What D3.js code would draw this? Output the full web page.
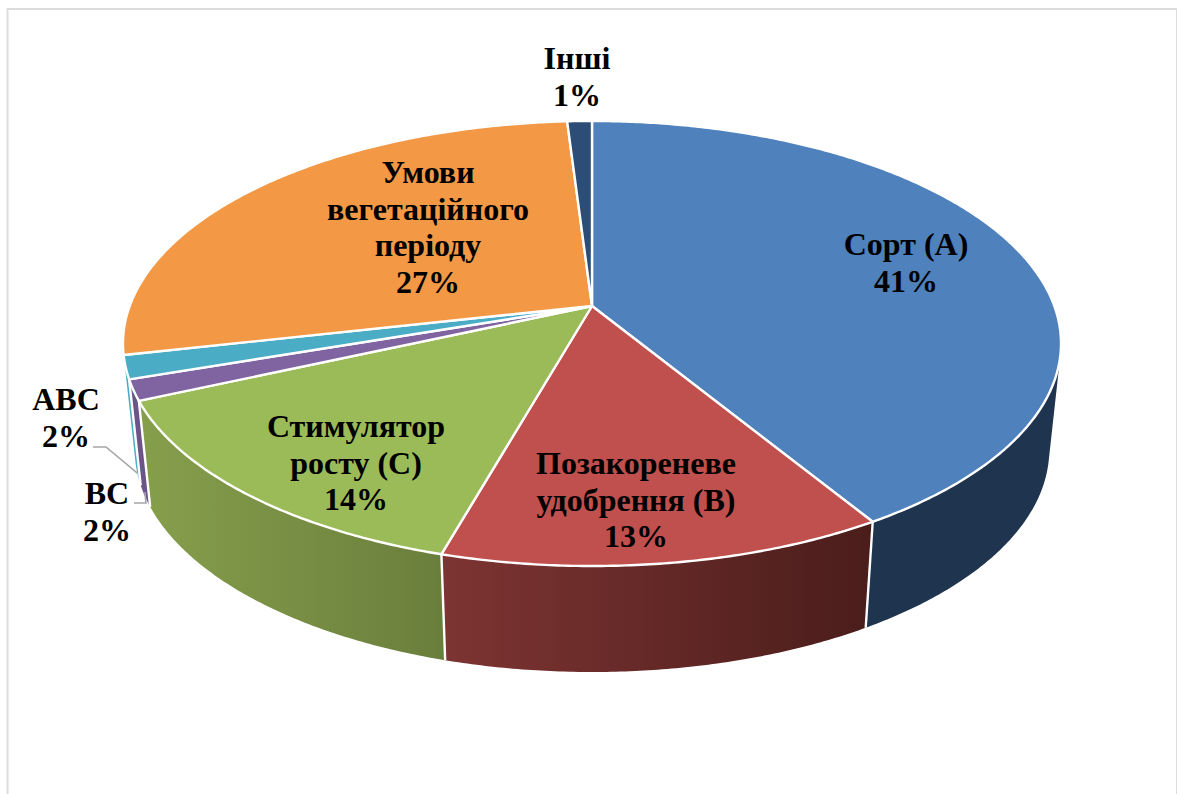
<!DOCTYPE html>
<html>
<head>
<meta charset="utf-8">
<title>Pie</title>
<script src="https://cdnjs.cloudflare.com/ajax/libs/d3/7.8.5/d3.min.js"></script>
<style>
    html, body { margin: 0; padding: 0; background: #fff; overflow: hidden; }
    svg { display: block; }
    text { font-family: "Liberation Serif", serif; font-weight: bold; font-size: 32px; fill: #000; text-anchor: middle; }
</style>
</head>
<body>
<svg></svg>
<script>
var svgWidth = 1177, svgHeight = 794;

var categories = ["Сорт (A)", "Позакореневе удобрення (B)", "Стимулятор росту (C)", "BC", "ABC", "Умови вегетаційного періоду", "Інші"];
var shares = [41.3, 13.1, 13.9, 1.5, 1.7, 27.5, 1.0];
var percentLabels = ["41%", "13%", "14%", "2%", "2%", "27%", "1%"];
var labelLines = [
    ["Сорт (A)"],
    ["Позакореневе", "удобрення (B)"],
    ["Стимулятор", "росту (C)"],
    ["BC"],
    ["ABC"],
    ["Умови", "вегетаційного", "періоду"],
    ["Інші"]
];

// styling and layout, one entry per slice
var topColors = ["#4f81bd", "#c0504d", "#9bbb59", "#8064a2", "#4bacc6", "#f39845", "#2c4d75"];
var wallLeft = ["#1f344e", "#7d3432", "#869f4c", "#6b5488", "#4bacc6", "#f39845", "#2c4d75"];
var wallRight = ["#1f344e", "#4a1d1b", "#6a7e3c", "#6b5488", "#4bacc6", "#f39845", "#2c4d75"];
var labelX = [906, 636, 356, 107, 66, 428, 577];
var labelY = [255, 474, 437, 504, 410, 183, 69];
var lineHeight = 36.5;

// perspective of the disc: apex of the slices on screen, radius, tilt
var cx = 592, cy = 306;
var radius = 462.3, tilt = 216.2, persp = 0.1685;
var depth = 106, bottomScale = 0.975;

var svg = d3.select("svg")
            .attr("width", svgWidth)
            .attr("height", svgHeight);

var defs = svg.append("defs");

function project(a, bottom) {
    var x = Math.sin(a), y = -Math.cos(a);
    var w = 1 - persp * y;
    var px = radius * x / w, py = tilt * y / w;
    if (bottom) {
        return [cx + px * bottomScale, cy + py + depth];
    }
    return [cx + px, cy + py];
}

function wallQuad(a0, a1) {
    return [project(a0, false), project(a1, false), project(a1, true), project(a0, true)];
}

var frontSign = Math.sign(d3.polygonArea(wallQuad(Math.PI - 0.01, Math.PI + 0.01)));

function isVisible(a0, a1) {
    return Math.sign(d3.polygonArea(wallQuad(a0, a1))) === frontSign;
}

var step = Math.PI / 360;

function arcAngles(a0, a1) {
    var n = Math.max(2, Math.ceil((a1 - a0) / step));
    return d3.range(n + 1).map(function(i) { return a0 + (a1 - a0) * i / n; });
}

var pie = d3.pie().sort(null).value(function(d) { return d; });
var slices = pie(shares);
var line = d3.line();

// frame round the chart area
svg.append("rect")
    .attr("x", 7.5)
    .attr("y", 9)
    .attr("width", 1169.5)
    .attr("height", 800)
    .attr("fill", "#fff")
    .attr("stroke", "#dcdcdc")
    .attr("stroke-width", 2);

// side walls, left slices first so the nearer ones lie on top
var wallOrder = [5, 6, 4, 3, 2, 1, 0];
wallOrder.forEach(function(i) {
    var s = slices[i];
    var angles = arcAngles(s.startAngle, s.endAngle);
    var quads = [];
    d3.pairs(angles).forEach(function(p) {
        if (isVisible(p[0], p[1])) quads.push(wallQuad(p[0], p[1]));
    });
    if (!quads.length) return;

    var xs = d3.merge(quads).map(function(p) { return p[0]; });
    var grad = defs.append("linearGradient")
        .attr("id", "wall" + i)
        .attr("gradientUnits", "userSpaceOnUse")
        .attr("x1", d3.min(xs)).attr("x2", d3.max(xs))
        .attr("y1", 0).attr("y2", 0);
    grad.append("stop").attr("offset", 0).attr("stop-color", wallLeft[i]);
    grad.append("stop").attr("offset", 1).attr("stop-color", wallRight[i]);

    svg.append("path")
        .attr("d", quads.map(function(q) { return line(q) + "Z"; }).join(""))
        .attr("fill", "url(#wall" + i + ")");
});

// white edges between the walls
slices.forEach(function(s) {
    var a = s.endAngle;
    if (!isVisible(a - 0.005, a + 0.005)) return;
    svg.append("path")
        .attr("d", line([project(a, false), project(a, true)]))
        .attr("fill", "none")
        .attr("stroke", "#fff")
        .attr("stroke-width", 2.4);
});

// top faces
svg.selectAll(".slice")
    .data(slices)
    .enter().append("path")
        .attr("class", "slice")
        .attr("d", function(d) {
            var pts = arcAngles(d.startAngle, d.endAngle).map(function(a) { return project(a, false); });
            return line([[cx, cy]].concat(pts)) + "Z";
        })
        .attr("fill", function(d, i) { return topColors[i]; })
        .attr("stroke", "#fff")
        .attr("stroke-width", 2.4)
        .attr("stroke-linejoin", "round");

// leader lines of the two small slices, anchored on the wall of their slice
function leader(pts) {
    svg.append("path")
        .attr("d", line(pts))
        .attr("fill", "none")
        .attr("stroke", "#a6a6a6")
        .attr("stroke-width", 1.6);
}
var abcEnd = project((slices[4].startAngle + slices[4].endAngle) / 2, true);
var bcEnd = project((slices[3].startAngle + slices[3].endAngle) / 2, true);
leader([[93, 447], [106, 447], abcEnd]);
leader([[134, 503], [146, 503], [bcEnd[0], bcEnd[1] - 4]]);

// labels
var labels = svg.selectAll(".label")
    .data(slices)
    .enter().append("text")
        .attr("class", "label")
        .attr("x", function(d, i) { return labelX[i]; })
        .attr("y", function(d, i) { return labelY[i]; });

labels.each(function(d, i) {
    var t = d3.select(this);
    labelLines[i].concat([percentLabels[i]]).forEach(function(str, j) {
        t.append("tspan")
            .attr("x", labelX[i])
            .attr("y", labelY[i] + j * lineHeight)
            .text(str);
    });
});
</script>
</body>
</html>
